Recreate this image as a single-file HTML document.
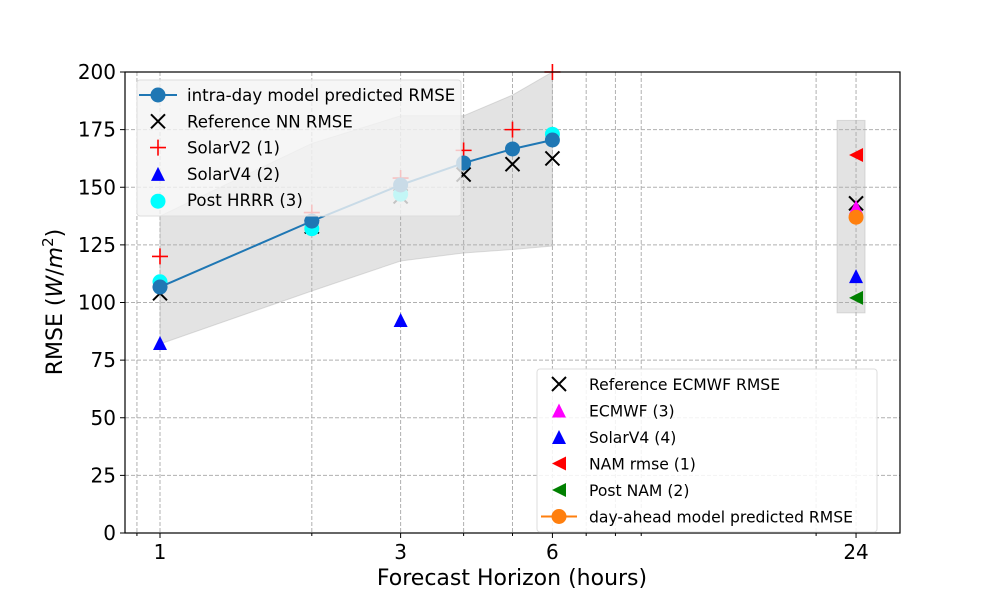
<!DOCTYPE html>
<html><head><meta charset="utf-8"><style>
body{margin:0;background:#fff;}
svg{display:block;font-family:"DejaVu Sans","Liberation Sans",sans-serif;}
</style></head><body>
<svg id="chart" width="1000" height="600" xmlns="http://www.w3.org/2000/svg">
<rect width="1000" height="600" fill="#fff"/>
<g id="grid"></g>
<g id="bands"></g>
<g id="marks"></g>
<rect x="125" y="72" width="775" height="461" fill="none" stroke="#000" stroke-width="1.2"/>
<g id="axes"></g>
<g id="legends"></g>
<text x="512" y="585" font-size="22" text-anchor="middle">Forecast Horizon (hours)</text>
<text transform="translate(62,302) rotate(-90)" font-size="22" text-anchor="middle">RMSE (<tspan font-style="italic">W</tspan>/<tspan font-style="italic">m</tspan><tspan font-size="15" dy="-9">2</tspan><tspan dy="9">)</tspan></text>
</svg>
<script>
const hours=[1,2,3,4,5,6];
const intraDay=[106.7,135.3,151,160.5,166.6,170.5];
const bandUpper=[137.5,169,181,181,190,200];
const bandLower=[82,105,118,121.5,123,124.5];
const refNN=[104,133,146,155.5,160,162.5];
const solarV2=[120,139,154,166,175,200];
const solarV4Hours=[1,3];
const solarV4=[82,92];
const postHrrrHours=[1,2,3,6];
const postHrrr=[109,132,147,173];
const dayHour=24;
const dayBand=[95.5,179];
const refEcmwf=143, ecmwf=141, dayAhead=137, solarV4d=111, namRmse=164, postNam=102;
const yTicks=[0,25,50,75,100,125,150,175,200];
const xTicks=[1,3,6,24];
const xMinor=[0.9,2,4,5,7,8,9,20];

const NS="http://www.w3.org/2000/svg";
const X=v=>160+Math.log10(v)*504.3;
const Y=v=>533-v*461/200;
function mk(tag,attrs,parent){const e=document.createElementNS(NS,tag);for(const k in attrs)e.setAttribute(k,attrs[k]);document.getElementById(parent).appendChild(e);return e;}
yTicks.forEach(t=>{const l=mk('line',{x1:125,x2:900,y1:Y(t),y2:Y(t),stroke:'#b0b0b0','stroke-dasharray':'4,2'},'grid');


const tk=mk('line',{x1:120,x2:125,y1:Y(t),y2:Y(t),stroke:'#000'},'axes');


const tx=mk('text',{x:116,y:Y(t)+7,'font-size':20,'text-anchor':'end'},'axes');tx.textContent=t;

});
xTicks.concat(xMinor).forEach(t=>{const l=mk('line',{x1:X(t),x2:X(t),y1:72,y2:533,stroke:'#b0b0b0','stroke-dasharray':'4,2'},'grid');


const major=xTicks.includes(t);
const tk=mk('line',{x1:X(t),x2:X(t),y1:533,y2:major?538:536,stroke:'#000'},'axes');

});
xTicks.forEach(t=>{const tx=mk('text',{x:X(t),y:559,'font-size':20,'text-anchor':'middle'},'axes');tx.textContent=t;

});
let pts=hours.map((h,i)=>X(h)+','+Y(bandUpper[i])).concat(hours.slice().reverse().map((h,i)=>X(h)+','+Y(bandLower[hours.length-1-i]))).join(' ');
const b1=mk('polygon',{points:pts,fill:'#b0b0b0','fill-opacity':0.35,stroke:'#b0b0b0','stroke-opacity':0.4},'bands');


const b2=mk('rect',{x:X(dayHour)-19,width:28,y:Y(dayBand[1]),height:Y(dayBand[0])-Y(dayBand[1]),fill:'#b0b0b0','fill-opacity':0.35,stroke:'#b0b0b0','stroke-opacity':0.4},'bands');


function cross(x,y,c,name,p){const g=mk('path',{d:`M${x-7},${y-7}L${x+7},${y+7}M${x-7},${y+7}L${x+7},${y-7}`,stroke:c,'stroke-width':2,fill:'none'},p||'marks');}
function plus(x,y,c,name,p){const g=mk('path',{d:`M${x-8},${y}L${x+8},${y}M${x},${y-8}L${x},${y+8}`,stroke:c,'stroke-width':1.6,fill:'none'},p||'marks');}
function tri(x,y,c,name,p){const g=mk('polygon',{points:`${x},${y-8} ${x-7},${y+6} ${x+7},${y+6}`,fill:c},p||'marks');}
function ltri(x,y,c,name,p){const g=mk('polygon',{points:`${x-7},${y} ${x+7},${y-7} ${x+7},${y+7}`,fill:c},p||'marks');}
function dot(x,y,c,name,p){const g=mk('circle',{cx:x,cy:y,r:7.5,fill:c},p||'marks');}
solarV4Hours.forEach((h,i)=>tri(X(h),Y(solarV4[i]),'#0000ff','solarv4-2-point'));
refNN.forEach((v,i)=>cross(X(hours[i]),Y(v),'#000','reference-nn-point'));
solarV2.forEach((v,i)=>plus(X(hours[i]),Y(v),'#ff0000','solarv2-point'));
postHrrr.forEach((v,i)=>dot(X(postHrrrHours[i]),Y(v),'#00ffff','post-hrrr-point'));
const line=mk('polyline',{points:hours.map((h,i)=>X(h)+','+Y(intraDay[i])).join(' '),fill:'none',stroke:'#1f77b4','stroke-width':2},'marks');


intraDay.forEach((v,i)=>dot(X(hours[i]),Y(v),'#1f77b4','intra-day-point'));
const dx=X(dayHour);
ltri(dx,Y(namRmse),'#ff0000','nam-rmse-point');
cross(dx,Y(refEcmwf),'#000','reference-ecmwf-point');
tri(dx,Y(ecmwf),'#ff00ff','ecmwf-point');
dot(dx,Y(dayAhead),'#ff7f0e','day-ahead-point');
tri(dx,Y(solarV4d),'#0000ff','solarv4-4-point');
ltri(dx,Y(postNam),'#008000','post-nam-point');
const L1=mk('rect',{x:137,y:80,width:324,height:136,rx:3,fill:'#f4f4f4','fill-opacity':0.8,stroke:'#ddd'},'legends');


const lx=158, items1=[['intra-day model predicted RMSE','line'],['Reference NN RMSE','x'],['SolarV2 (1)','plus'],['SolarV4 (2)','tri'],['Post HRRR (3)','cyan']];
items1.forEach((it,i)=>{const y=95+i*26.3;
if(it[1]=='line'){const l=mk('line',{x1:lx-19,x2:lx+19,y1:y,y2:y,stroke:'#1f77b4','stroke-width':2},'legends');dot(lx,y,'#1f77b4','legend-swatch','legends');}
if(it[1]=='x')cross(lx,y,'#000','legend-swatch','legends');
if(it[1]=='plus')plus(lx,y,'#ff0000','legend-swatch','legends');
if(it[1]=='tri')tri(lx,y+1,'#0000ff','legend-swatch','legends');
if(it[1]=='cyan')dot(lx,y+1,'#00ffff','legend-swatch','legends');
const t=mk('text',{x:187,y:y+6,'font-size':16.6},'legends');t.textContent=it[0];

});
const L2=mk('rect',{x:537,y:369,width:340,height:163,rx:3,fill:'#fff','fill-opacity':0.85,stroke:'#ddd'},'legends');


const lx2=559, items2=[['Reference ECMWF RMSE','x'],['ECMWF (3)','mag'],['SolarV4 (4)','blue'],['NAM rmse (1)','red'],['Post NAM (2)','green'],['day-ahead model predicted RMSE','orange']];
items2.forEach((it,i)=>{const y=384+i*26.5;
if(it[1]=='x')cross(lx2,y,'#000','legend-swatch','legends');
if(it[1]=='mag')tri(lx2,y+1,'#ff00ff','legend-swatch','legends');
if(it[1]=='blue')tri(lx2,y+1,'#0000ff','legend-swatch','legends');
if(it[1]=='red')ltri(lx2,y,'#ff0000','legend-swatch','legends');
if(it[1]=='green')ltri(lx2,y,'#008000','legend-swatch','legends');
if(it[1]=='orange'){const l=mk('line',{x1:lx2-18,x2:lx2+18,y1:y,y2:y,stroke:'#ff7f0e','stroke-width':2},'legends');dot(lx2,y,'#ff7f0e','legend-swatch','legends');}
const t=mk('text',{x:589,y:y+6,'font-size':15.6},'legends');t.textContent=it[0];

});
</script>
</body></html>
